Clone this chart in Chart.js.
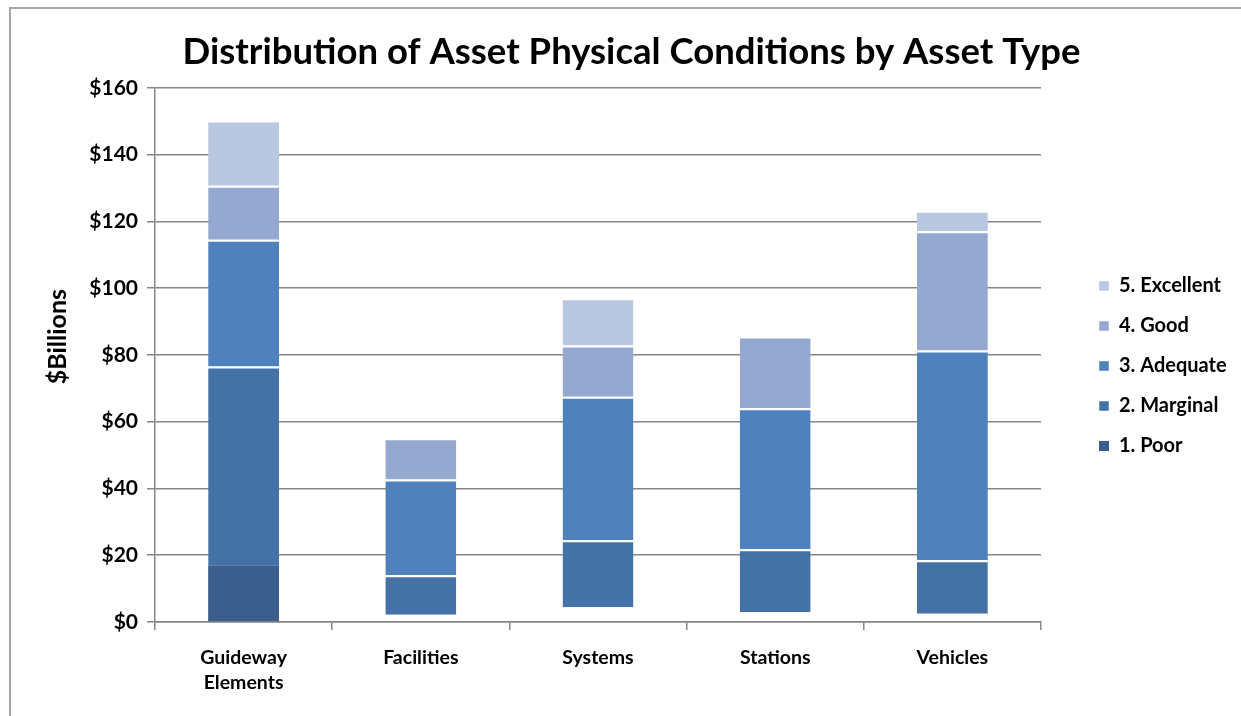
<!DOCTYPE html>
<html>
<head>
<meta charset="utf-8">
<script src="https://cdn.jsdelivr.net/npm/chart.js@4"></script>
<style>
  html, body { margin: 0; background: #fff; overflow: hidden; }
  #wrap { position: absolute; left: 0; top: 0; width: 1241px; height: 716px; }
</style>
</head>
<body>
<div id="wrap"><canvas id="myChart"></canvas></div>
<script>
const categories = [['Guideway', 'Elements'], 'Facilities', 'Systems', 'Stations', 'Vehicles'];
const poor = [17, 2.2, 4.4, 3.0, 2.5];
const marginal = [59.5, 11.8, 20.1, 18.8, 16];
const adequate = [38, 28.7, 43, 42.2, 62.8];
const good = [16.2, 12.3, 15.3, 21.5, 35.7];
const excellent = [19.5, 0, 14.2, 0, 6.2];
const yTicks = [0, 20, 40, 60, 80, 100, 120, 140, 160];

const fontFamily = 'Lato, "Open Sans", sans-serif';

// legend gets a fixed width and sits a bit right of the plot like the original
const legendPlacement = {
    id: 'legendPlacement',
    beforeInit(chart) {
        const fit = chart.legend.fit;
        chart.legend.fit = function () {
            fit.call(this);
            this.width = 200;
        };
    },
    afterLayout(chart) {
        chart.legend.left += 38;
        chart.legend.top += 8;
        chart.legend.bottom += 8;
    }
};

// grey outline of the chart object (left and top edges only)
const chartFrame = {
    id: 'chartFrame',
    beforeDraw(chart) {
        const c = chart.ctx;
        c.save();
        c.strokeStyle = '#a6a6a6';
        c.lineWidth = 2;
        c.beginPath();
        c.moveTo(10, chart.height);
        c.lineTo(10, 8);
        c.lineTo(chart.width, 8);
        c.stroke();
        c.restore();
    }
};

function makeDataset(label, data, color) {
    return {
        label: label,
        data: data,
        backgroundColor: color,
        borderColor: '#ffffff',
        borderWidth: { top: 2, left: 0, right: 0, bottom: 0 },
        borderSkipped: false,
        barPercentage: 0.4,
        categoryPercentage: 1
    };
}

document.addEventListener('DOMContentLoaded', function () {
    const ctx = document.getElementById('myChart').getContext('2d');

    const poorSet = makeDataset('1. Poor', poor, '#3B5E8C');
    // only the guideway poor segment shows up in the original
    poorSet.backgroundColor = c => c.dataIndex === 0 ? '#3B5E8C' : 'rgba(255,255,255,0)';
    poorSet.borderWidth = 0;

    const myChart = new Chart(ctx, {
        type: 'bar',
        data: {
            labels: categories,
            datasets: [
                poorSet,
                makeDataset('2. Marginal', marginal, '#4472A6'),
                makeDataset('3. Adequate', adequate, '#4F81BD'),
                makeDataset('4. Good', good, '#95A9D0'),
                makeDataset('5. Excellent', excellent, '#BAC7E0')
            ]
        },
        options: {
            responsive: true,
            maintainAspectRatio: false,
            animation: false,
            layout: { padding: { left: 22, right: 0, top: 0, bottom: 0 } },
            scales: {
                x: {
                    stacked: true,
                    grid: { display: true, offset: true, drawOnChartArea: false, color: '#868686', lineWidth: 1.5, tickLength: 8 },
                    border: { color: '#868686', width: 1.5 },
                    ticks: { color: '#000', padding: 15, font: { family: fontFamily, size: 19.5, weight: 'bold', lineHeight: 1.3 } },
                    afterFit(scale) { scale.height = 94; }
                },
                y: {
                    stacked: true,
                    min: 0,
                    max: 160,
                    afterBuildTicks(scale) { scale.ticks = yTicks.map(v => ({ value: v })); },
                    grid: { color: '#868686', lineWidth: 1.5, tickLength: 8 },
                    border: { color: '#868686', width: 1.5 },
                    ticks: {
                        color: '#000',
                        padding: 9,
                        font: { family: fontFamily, size: 21, weight: 'bold' },
                        callback: v => '$' + v
                    },
                    title: {
                        display: true,
                        text: '\u00A0\u00A0\u00A0\u00A0\u00A0\u00A0$Billions',
                        color: '#000',
                        padding: { top: 21, bottom: 0 },
                        font: { family: fontFamily, size: 25, weight: 'bold' }
                    },
                    afterFit(scale) { scale.width = 133; }
                }
            },
            plugins: {
                title: {
                    display: true,
                    text: 'Distribution of Asset Physical Conditions by Asset Type',
                    color: '#000',
                    padding: { top: 30, bottom: 14 },
                    font: { family: fontFamily, size: 36.5, weight: 'bold' }
                },
                legend: {
                    position: 'right',
                    reverse: true,
                    labels: {
                        color: '#000',
                        boxWidth: 10,
                        boxHeight: 10,
                        padding: 20,
                        font: { family: fontFamily, size: 20, weight: 'bold' }
                    }
                },
                tooltip: { enabled: false }
            }
        },
        plugins: [legendPlacement, chartFrame]
    });
});
</script>
</body>
</html>
